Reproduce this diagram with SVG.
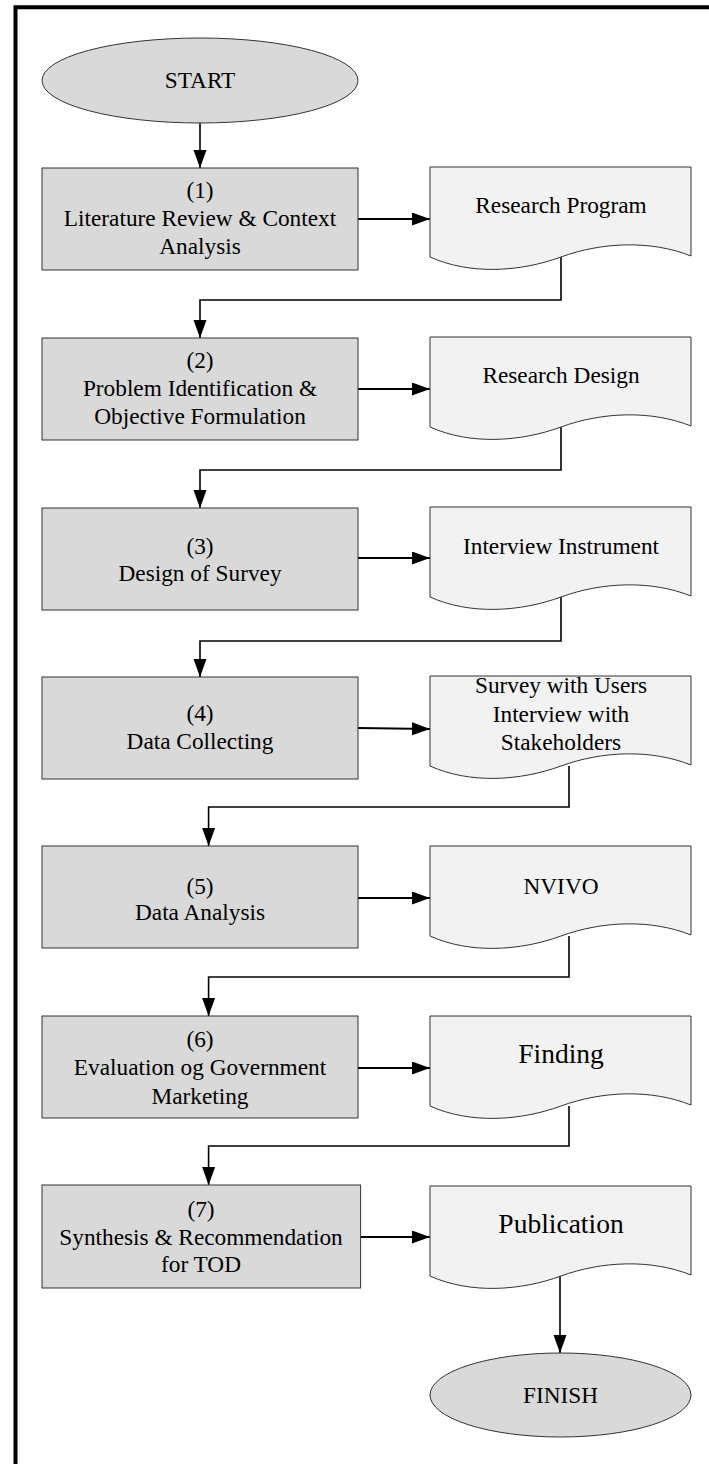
<svg xmlns="http://www.w3.org/2000/svg" width="709" height="1464" viewBox="0 0 709 1464">
<style>
.box{fill:#d9d9d9;stroke:#333;stroke-width:1}
.doc{fill:#f2f2f2;stroke:#333;stroke-width:1}
.term{fill:#d9d9d9;stroke:#333;stroke-width:1}
text{font-family:"Liberation Serif","Times New Roman",serif;font-size:23.3px;fill:#000;text-anchor:middle}
.big{font-size:27.5px}
.con{fill:none;stroke:#000;stroke-width:1.6;marker-end:url(#arr)}
.hcon{fill:none;stroke:#000;stroke-width:2;marker-end:url(#arr)}
</style>
<defs>
<marker id="arr" markerUnits="userSpaceOnUse" markerWidth="20" markerHeight="14" refX="18" refY="6.5" orient="auto">
<path d="M0,0 L18,6.5 L0,13 Z" fill="#000"/>
</marker>
<path id="docshape" d="M430,0 H691 V89 C651,73 602,75 561,90 C520,105 470,108 430,90 Z"/>
</defs>
<rect width="709" height="1464" fill="#fff"/>
<path d="M15.5,1464 V7.2 H709" fill="none" stroke="#000" stroke-width="4"/>
<g id="connectors">
<path class="con" d="M200,123 V168"/>
<path class="hcon" d="M358,219 H430"/>
<path class="con" d="M561,257 V300 H200 V338"/>
<path class="hcon" d="M358,389 H430"/>
<path class="con" d="M561,427 V470 H200 V508"/>
<path class="hcon" d="M358,558 H430"/>
<path class="con" d="M561,597 V641 H200 V677"/>
<path class="hcon" d="M358,728 L430,729"/>
<path class="con" d="M569,766 V807 H208.6 V846"/>
<path class="hcon" d="M358,898 H430"/>
<path class="con" d="M569,936 V977 H208.6 V1016"/>
<path class="hcon" d="M358,1068 H430"/>
<path class="con" d="M569,1106 V1146 H208.6 V1185"/>
<path class="hcon" d="M360.6,1237 H430"/>
<path class="con" d="M560,1276 V1353"/>
</g>
<g id="start">
<ellipse class="term" cx="200" cy="80.5" rx="158" ry="42.5"/>
<text x="200" y="88">START</text>
</g>
<g id="step1">
<rect class="box" x="42" y="168" width="316" height="102"/>
<text x="200" y="198">(1)</text>
<text x="200" y="226">Literature Review &amp; Context</text>
<text x="200" y="254">Analysis</text>
</g>
<g id="doc1">
<use href="#docshape" class="doc" transform="translate(0,167)"/>
<text x="561" y="213">Research Program</text>
</g>
<g id="step2">
<rect class="box" x="42" y="338" width="316" height="102"/>
<text x="200" y="368">(2)</text>
<text x="200" y="396">Problem Identification &amp;</text>
<text x="200" y="424">Objective Formulation</text>
</g>
<g id="doc2">
<use href="#docshape" class="doc" transform="translate(0,337)"/>
<text x="561" y="383">Research Design</text>
</g>
<g id="step3">
<rect class="box" x="42" y="508" width="316" height="102"/>
<text x="200" y="554">(3)</text>
<text x="200" y="581">Design of Survey</text>
</g>
<g id="doc3">
<use href="#docshape" class="doc" transform="translate(0,507)"/>
<text x="561" y="554">Interview Instrument</text>
</g>
<g id="step4">
<rect class="box" x="42" y="677" width="316" height="102"/>
<text x="200" y="721">(4)</text>
<text x="200" y="749">Data Collecting</text>
</g>
<g id="doc4">
<use href="#docshape" class="doc" transform="translate(0,676)"/>
<text x="561" y="693">Survey with Users</text>
<text x="561" y="722">Interview with</text>
<text x="561" y="750">Stakeholders</text>
</g>
<g id="step5">
<rect class="box" x="42" y="846" width="316" height="102"/>
<text x="200" y="894">(5)</text>
<text x="200" y="920">Data Analysis</text>
</g>
<g id="doc5">
<use href="#docshape" class="doc" transform="translate(0,846)"/>
<text x="561" y="894">NVIVO</text>
</g>
<g id="step6">
<rect class="box" x="42" y="1016" width="316" height="102"/>
<text x="200" y="1047">(6)</text>
<text x="200" y="1075">Evaluation og Government</text>
<text x="200" y="1104">Marketing</text>
</g>
<g id="doc6">
<use href="#docshape" class="doc" transform="translate(0,1016)"/>
<text class="big" x="561" y="1063">Finding</text>
</g>
<g id="step7">
<rect class="box" x="42" y="1185" width="318.6" height="103"/>
<text x="201" y="1217">(7)</text>
<text x="201" y="1245">Synthesis &amp; Recommendation</text>
<text x="201" y="1272">for TOD</text>
</g>
<g id="doc7">
<use href="#docshape" class="doc" transform="translate(0,1186)"/>
<text class="big" x="561" y="1233">Publication</text>
</g>
<g id="finish">
<ellipse class="term" cx="560.5" cy="1395" rx="130.5" ry="42"/>
<text x="560.5" y="1403">FINISH</text>
</g>
</svg>
